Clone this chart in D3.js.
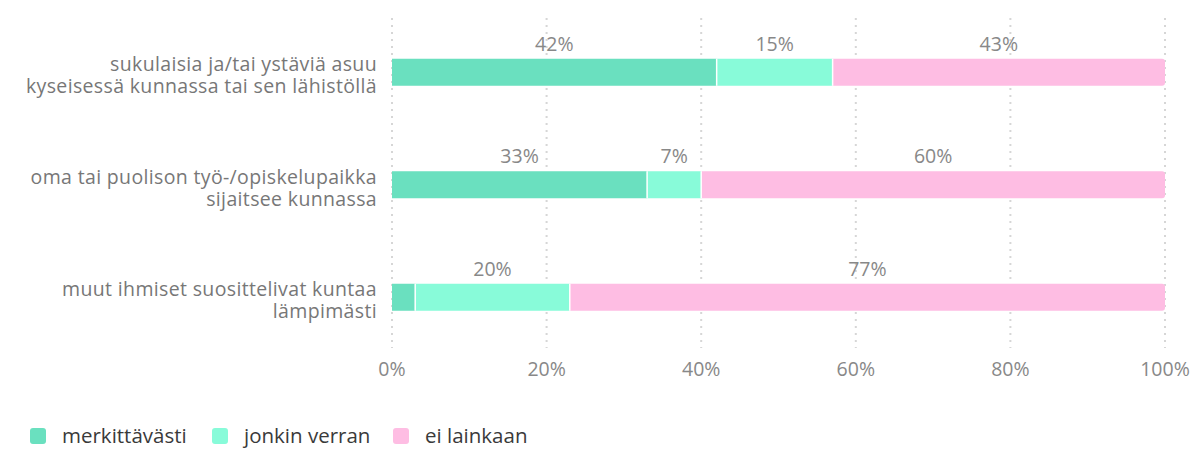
<!DOCTYPE html>
<html>
<head>
<meta charset="utf-8">
<script src="https://cdn.jsdelivr.net/npm/d3@7"></script>
<style>
  body { margin: 0; background: #fff; }
  text { font-family: "Open Sans", sans-serif; }
</style>
</head>
<body>
<div id="chart"></div>
<script>
// Data
const categories = [
  ["sukulaisia ja/tai ystäviä asuu", "kyseisessä kunnassa tai sen lähistöllä"],
  ["oma tai puolison työ-/opiskelupaikka", "sijaitsee kunnassa"],
  ["muut ihmiset suosittelivat kuntaa", "lämpimästi"]
];
const seriesNames = ["merkittävästi", "jonkin verran", "ei lainkaan"];
const merkittavasti = [42, 33, 3];
const jonkinVerran = [15, 7, 20];
const eiLainkaan = [43, 60, 77];
const ticks = [0, 20, 40, 60, 80, 100];
const colors = ["#6ae0bf", "#88fbd9", "#febde3"];

const width = 1204, height = 451;
const svg = d3.select("#chart")
  .append("svg")
  .attr("width", width)
  .attr("height", height);

const x = d3.scaleLinear().domain([0, 100]).range([392, 1165]);
const y = d3.scaleBand().domain(d3.range(categories.length)).range([16, 353.5]).paddingInner(0.76).paddingOuter(0.38);

// gridlines
svg.append("g").selectAll("line")
  .data(ticks)
  .join("line")
  .attr("x1", d => x(d)).attr("x2", d => x(d))
  .attr("y1", 18).attr("y2", 348)
  .attr("stroke", "#d6d6d6")
  .attr("stroke-width", 2)
  .attr("stroke-dasharray", "2,5");

// x axis tick labels
svg.append("g").selectAll("text")
  .data(ticks)
  .join("text")
  .attr("x", d => x(d))
  .attr("y", 376)
  .attr("text-anchor", "middle")
  .attr("font-size", 19.5)
  .attr("fill", "#888")
  .text(d => d + "%");

// stacked bars
const rows = categories.map((c, i) => ({ i, vals: [merkittavasti[i], jonkinVerran[i], eiLainkaan[i]] }));
const bh = y.bandwidth();

rows.forEach(row => {
  let acc = 0;
  const g = svg.append("g");
  row.vals.forEach((v, k) => {
    const x0 = x(acc), x1 = x(acc + v);
    const last = k === row.vals.length - 1;
    if (last) {
      g.append("path")
        .attr("d", `M${x0},${y(row.i)}H${x1 - 3}a3,3 0 0 1 3,3V${y(row.i) + bh - 3}a3,3 0 0 1 -3,3H${x0}Z`)
        .attr("fill", colors[k]);
    } else {
      g.append("rect")
        .attr("x", x0).attr("y", y(row.i))
        .attr("width", x1 - x0).attr("height", bh)
        .attr("fill", colors[k]);
    }
    if (k > 0) {
      g.append("line")
        .attr("x1", x0).attr("x2", x0)
        .attr("y1", y(row.i)).attr("y2", y(row.i) + bh)
        .attr("stroke", "#fff").attr("stroke-width", 1.5);
    }
    if (v >= 5) {
      g.append("text")
        .attr("x", (x0 + x1) / 2)
        .attr("y", y(row.i) - 8)
        .attr("text-anchor", "middle")
        .attr("font-size", 19.5)
        .attr("fill", "#888")
        .text(v + "%");
    }
    acc += v;
  });

  // category label
  const lbl = svg.append("text")
    .attr("x", 377)
    .attr("y", y(row.i) + bh / 2)
    .attr("text-anchor", "end")
    .attr("font-size", 19.5)
    .attr("letter-spacing", 0.35)
    .attr("fill", "#777");
  categories[row.i].forEach((line, j) => {
    lbl.append("tspan")
      .attr("x", 377)
      .attr("dy", j === 0 ? -1 : 22)
      .text(line);
  });
});

// legend
const legendX = [30, 212, 393];
const legend = svg.append("g");
seriesNames.forEach((name, k) => {
  legend.append("rect")
    .attr("x", legendX[k]).attr("y", 428)
    .attr("width", 16).attr("height", 16)
    .attr("rx", 3)
    .attr("fill", colors[k]);
  legend.append("text")
    .attr("x", legendX[k] + 32)
    .attr("y", 443)
    .attr("font-size", 20.5)
    .attr("fill", "#3a3a3a")
    .text(name);
});
</script>
</body>
</html>
